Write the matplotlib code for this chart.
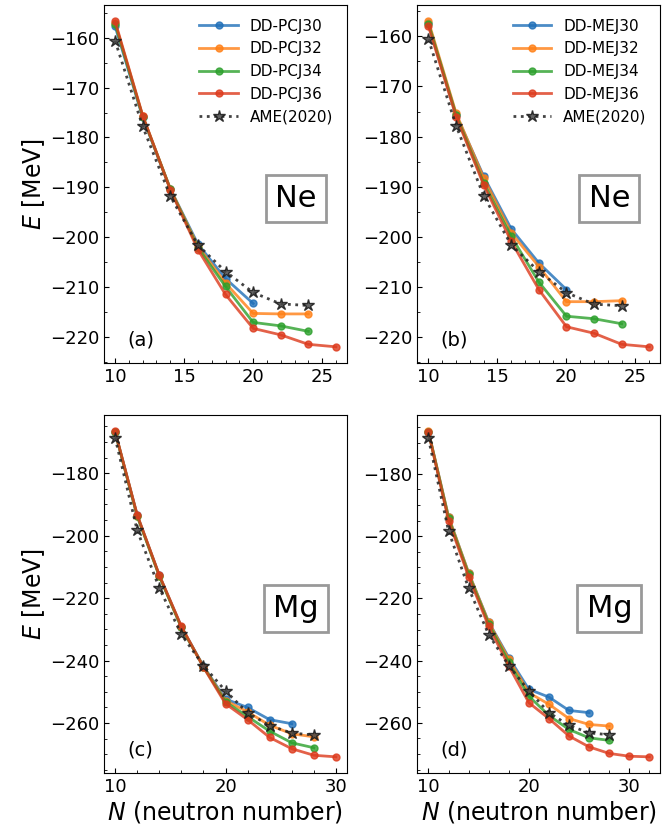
import matplotlib.pyplot as plt
from matplotlib.ticker import MultipleLocator

# neutron numbers
n_ne = [10, 12, 14, 16, 18, 20, 22, 24, 26]
n_mg = [10, 12, 14, 16, 18, 20, 22, 24, 26, 28, 30, 32]

# AME(2020)
ame_ne = [-160.6, -177.8, -191.8, -201.6, -206.9, -211.1, -213.4, -213.7]
ame_mg = [-168.6, -198.3, -216.7, -231.6, -241.6, -249.7, -256.7, -260.8, -263.2, -263.8]

# DD-PCJ, Ne
pcj30_ne = [-157.7, -176.0, -190.3, -201.4, -208.3, -213.3]
pcj32_ne = [-157.0, -175.7, -190.3, -201.8, -209.2, -215.3, -215.4, -215.4]
pcj34_ne = [-157.2, -175.8, -190.4, -202.1, -209.9, -217.1, -217.8, -218.9]
pcj36_ne = [-156.7, -175.6, -190.5, -202.5, -211.5, -218.3, -219.6, -221.5, -222.0]

# DD-MEJ, Ne
mej30_ne = [-157.4, -175.6, -187.9, -198.4, -205.2, -210.5]
mej32_ne = [-157.0, -175.3, -188.2, -199.2, -205.9, -212.9, -212.9, -212.7]
mej34_ne = [-157.5, -175.7, -189.2, -199.9, -209.0, -215.8, -216.3, -217.3]
mej36_ne = [-158.0, -176.0, -189.6, -200.9, -210.5, -217.9, -219.2, -221.4, -221.9]

# DD-PCJ, Mg
pcj30_mg = [-166.8, -193.5, -212.7, -229.2, -241.8, -252.3, -255.0, -258.9, -260.2]
pcj32_mg = [-166.8, -193.6, -212.8, -229.3, -241.9, -252.8, -256.4, -260.7, -263.4, -264.4]
pcj34_mg = [-166.8, -193.7, -212.9, -229.4, -242.0, -253.2, -257.9, -262.6, -266.3, -267.9]
pcj36_mg = [-166.6, -193.3, -212.6, -229.0, -242.1, -253.8, -258.9, -264.6, -268.2, -270.3, -270.8]

# DD-MEJ, Mg
mej30_mg = [-166.4, -193.8, -211.8, -227.6, -239.0, -249.2, -251.7, -256.0, -256.7]
mej32_mg = [-166.3, -193.8, -211.8, -227.7, -239.5, -250.3, -254.0, -258.6, -260.5, -261.0]
mej34_mg = [-166.5, -194.3, -212.3, -228.2, -240.5, -251.4, -257.6, -262.1, -264.8, -265.6]
mej36_mg = [-166.6, -195.0, -213.0, -229.0, -241.7, -253.5, -258.6, -264.2, -267.7, -269.8, -270.7, -270.9]

colors = ["#1f6fb8", "#ff7f14", "#2ca02c", "#dd3a1c"]


def draw(ax, n, series, labels, ame, element, tag):
    for vals, lab, c in zip(series, labels, colors):
        ax.plot(n[:len(vals)], vals, "-o", color=c, lw=2, ms=5, alpha=0.8, label=lab)
    ax.plot(n[:len(ame)], ame, ":*", color="#222222", lw=2, ms=9,
            mfc="#4a4a4a", mec="#1a1a1a", alpha=0.85, label="AME(2020)")
    ax.text(0.79, 0.46, element, transform=ax.transAxes, fontsize=22,
            ha="center", va="center",
            bbox=dict(boxstyle="square,pad=0.3", fc="white", ec="#999999", lw=2))
    ax.text(0.15, 0.065, tag, transform=ax.transAxes, fontsize=14,
            ha="center", va="center")
    ax.tick_params(which="both", direction="in", labelsize=13)


fig, axes = plt.subplots(2, 2, figsize=(6.67, 8.34), dpi=100)
plt.subplots_adjust(left=0.156, right=0.99, top=0.994, bottom=0.073,
                    wspace=0.29, hspace=0.145)

pcj_labels = ["DD-PCJ30", "DD-PCJ32", "DD-PCJ34", "DD-PCJ36"]
mej_labels = ["DD-MEJ30", "DD-MEJ32", "DD-MEJ34", "DD-MEJ36"]

draw(axes[0, 0], n_ne, [pcj30_ne, pcj32_ne, pcj34_ne, pcj36_ne], pcj_labels, ame_ne, "Ne", "(a)")
draw(axes[0, 1], n_ne, [mej30_ne, mej32_ne, mej34_ne, mej36_ne], mej_labels, ame_ne, "Ne", "(b)")
draw(axes[1, 0], n_mg, [pcj30_mg, pcj32_mg, pcj34_mg, pcj36_mg], pcj_labels, ame_mg, "Mg", "(c)")
draw(axes[1, 1], n_mg, [mej30_mg, mej32_mg, mej34_mg, mej36_mg], mej_labels, ame_mg, "Mg", "(d)")

for ax in axes[0]:
    ax.xaxis.set_major_locator(MultipleLocator(5))
    ax.xaxis.set_minor_locator(MultipleLocator(1))
    ax.yaxis.set_major_locator(MultipleLocator(10))
    ax.yaxis.set_minor_locator(MultipleLocator(5))
    ax.legend(loc="upper right", frameon=False, fontsize=11, handlelength=2.5)

for ax in axes[1]:
    ax.xaxis.set_major_locator(MultipleLocator(10))
    ax.xaxis.set_minor_locator(MultipleLocator(2))
    ax.yaxis.set_major_locator(MultipleLocator(20))
    ax.yaxis.set_minor_locator(MultipleLocator(5))
    ax.set_xlabel("$N$ (neutron number)", fontsize=17, labelpad=2)

for ax in axes[:, 0]:
    ax.set_ylabel("$E$ [MeV]", fontsize=17, labelpad=2)

plt.savefig("out.png", dpi=100)
